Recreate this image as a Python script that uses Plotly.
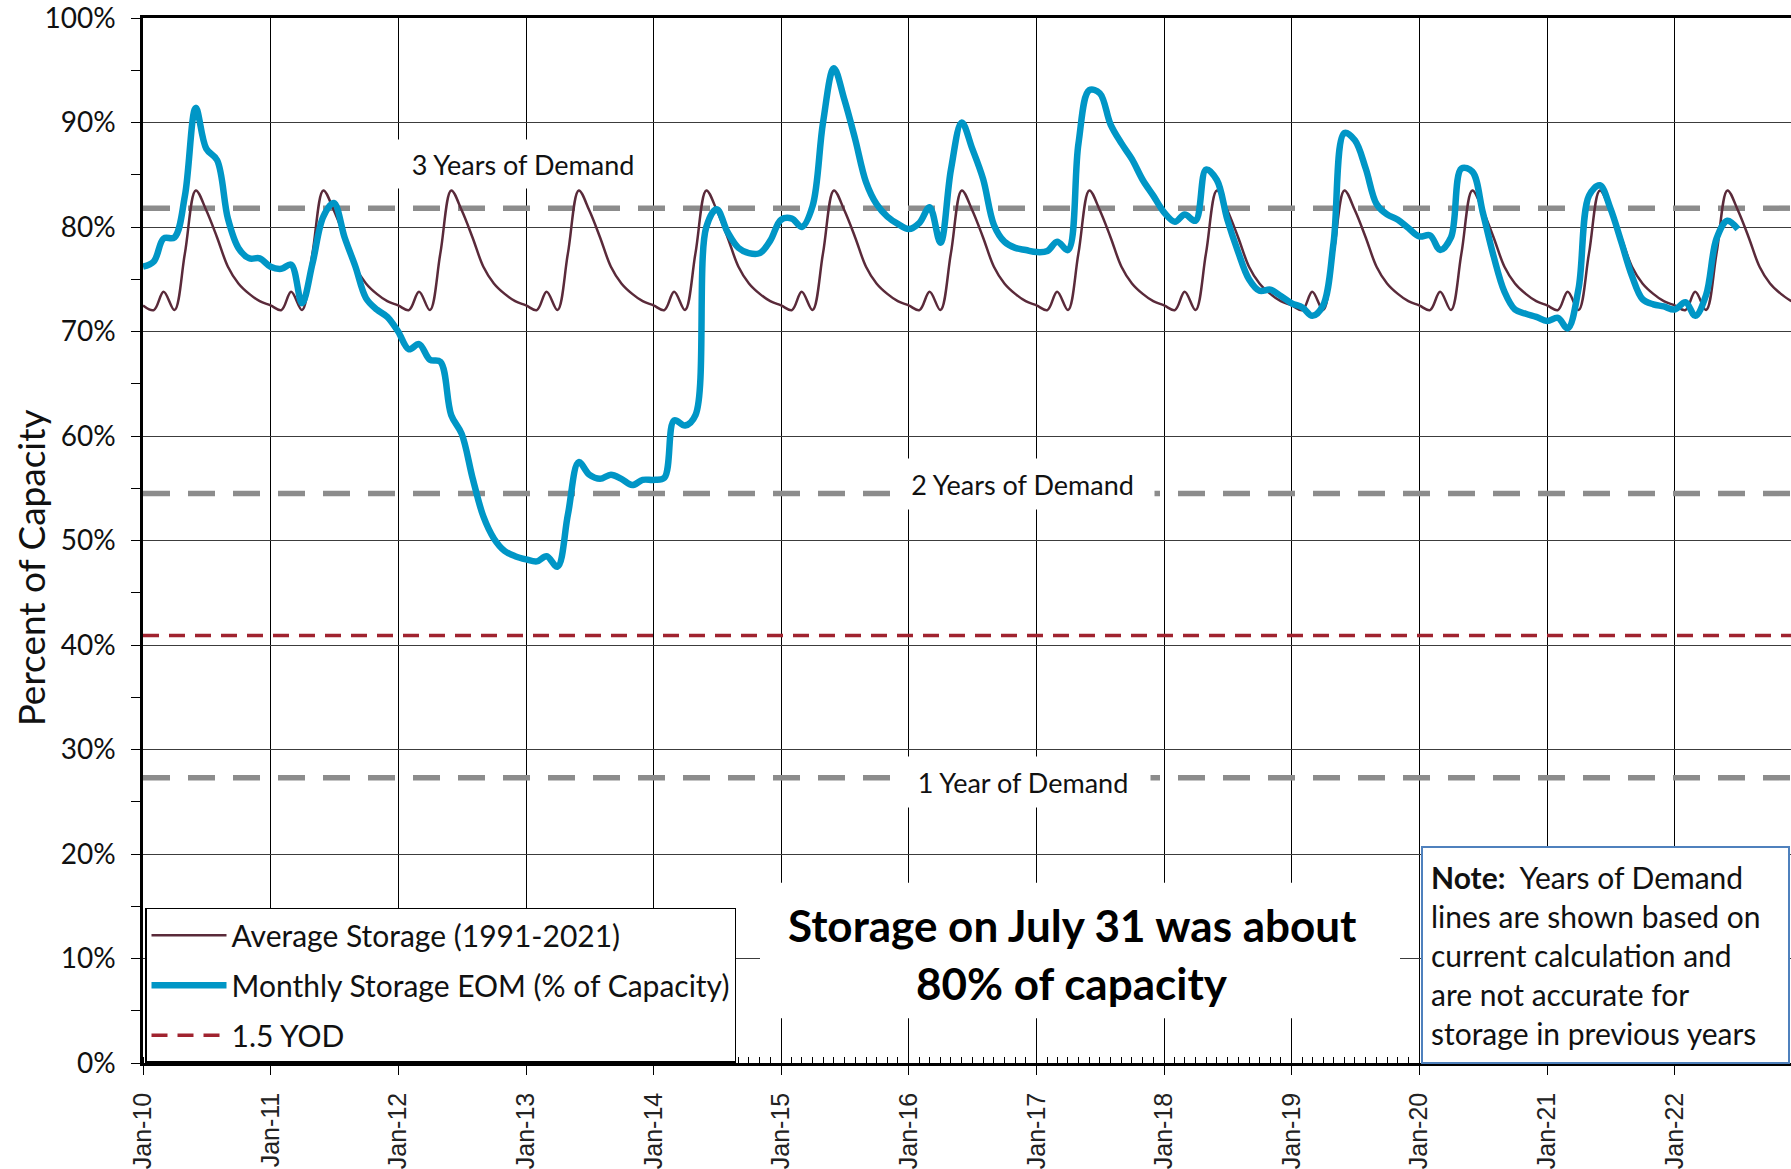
import pandas as pd
import plotly.graph_objects as go

# ---------------- data ----------------
storage_dates = pd.date_range("2010-01-01", "2022-07-01", freq="MS")
storage_eom = [
    # 2010
    76.2, 76.7, 78.9, 79.0, 83.0, 91.4, 87.5, 86.4, 80.8, 78.0, 77.0, 77.0,
    # 2011
    76.2, 76.0, 76.4, 72.7, 76.5, 81.0, 82.3, 79.0, 76.2, 73.2, 72.1, 71.4,
    # 2012
    70.0, 68.3, 68.8, 67.3, 67.1, 62.0, 60.2, 56.0, 52.3, 50.2, 49.0, 48.5,
    # 2013
    48.2, 48.0, 48.5, 47.5, 52.5, 57.5, 56.3, 55.9, 56.3, 55.9, 55.3, 55.8,
    # 2014
    55.8, 56.0, 61.5, 61.0, 62.0, 80.0, 81.7, 79.5, 78.0, 77.5, 77.5, 78.7,
    # 2015
    80.7, 80.8, 80.0, 82.0, 90.0, 95.2, 92.2, 88.4, 84.3, 82.2, 81.0, 80.3,
    # 2016
    79.8, 80.4, 81.9, 78.5, 85.5, 90.0, 87.5, 84.6, 80.2, 78.6, 78.0, 77.8,
    # 2017
    77.6, 77.7, 78.6, 77.8, 88.0, 93.1, 92.8, 89.8, 88.0, 86.5, 84.5, 83.0,
    # 2018
    81.4, 80.5, 81.2, 80.6, 85.5, 84.5, 80.7, 77.6, 75.0, 73.9, 74.0, 73.4,
    # 2019
    72.7, 72.3, 71.5, 72.5, 78.5, 89.0, 88.3, 85.6, 82.2, 81.2, 80.7, 79.9,
    # 2020
    79.1, 79.2, 77.8, 79.0, 85.6, 85.3, 81.4, 77.2, 73.8, 72.1, 71.7, 71.4,
    # 2021
    71.0, 71.3, 70.3, 74.1, 83.0, 84.0, 81.8, 78.6, 75.3, 73.1, 72.6, 72.4,
    # 2022
    72.1, 72.8, 71.5, 73.5, 78.9, 80.6, 79.8,
]

# average storage (1991-2021) by calendar month, Jan..Dec
avg_by_month = [72.5, 72.05, 73.8, 72.05, 77.5, 83.5, 81.6, 79.0, 76.2, 74.6, 73.6, 72.9]
avg_dates = pd.date_range("2010-01-01", "2022-12-01", freq="MS")
avg_storage = [avg_by_month[d.month - 1] for d in avg_dates]

yod_levels = [81.8, 54.5, 27.3]
yod_labels = ["3 Years of Demand", "2 Years of Demand", "1 Year of Demand"]
yod_15_level = 40.9

y_tick_vals = [0, 10, 20, 30, 40, 50, 60, 70, 80, 90, 100]
y_tick_text = ["0%", "10%", "20%", "30%", "40%", "50%", "60%", "70%", "80%", "90%", "100%"]

x_start = "2010-01-01"
x_end = "2022-11-30"

# ---------------- layout geometry ----------------
W, H = 1791, 1169
L, R, T, B = 143, 0, 18, 101
PW = W - L - R
PH = H - T - B
BOTTOM = T + PH


def px_x(px):
    return (px - L) / PW


def px_y(py):
    return (BOTTOM - py) / PH


CAL = "Lato, 'Open Sans', sans-serif"
ARIAL = "'Liberation Sans', Arial, sans-serif"

fig = go.Figure()

# Years-of-demand reference lines (not in legend)
for lvl in yod_levels:
    fig.add_trace(go.Scatter(
        x=[x_start, "2022-12-31"], y=[lvl, lvl], mode="lines",
        line=dict(color="#8C8C8C", width=5.5, dash="27px,18px"),
        showlegend=False, hoverinfo="skip"))

fig.add_trace(go.Scatter(
    x=[x_start, "2022-12-31"], y=[yod_15_level, yod_15_level], mode="lines",
    name="1.5 YOD", legendrank=3, legendgroup="c",
    line=dict(color="#A0232F", width=3.5, dash="16px,10px")))

fig.add_trace(go.Scatter(
    x=avg_dates, y=avg_storage, mode="lines",
    name="Average Storage (1991-2021)", legendrank=1, legendgroup="a",
    line=dict(color="#5A2A3A", width=2.5, shape="spline", smoothing=1)))

fig.add_trace(go.Scatter(
    x=storage_dates, y=storage_eom, mode="lines",
    name="Monthly Storage EOM (% of Capacity)", legendrank=2, legendgroup="b",
    line=dict(color="#0096C6", width=6.5, shape="spline", smoothing=1)))

annotations = []

# Years of demand labels with white boxes
yod_label_px = [(523, 165, 258, 48), (1022, 486, 263, 50), (1023, 786, 254, 50)]
for (cx, cy, bw, bh), lab in zip(yod_label_px, yod_labels):
    annotations.append(dict(
        text=lab, xref="paper", yref="paper", x=px_x(cx), y=px_y(cy),
        xanchor="center", yanchor="middle", showarrow=False,
        bgcolor="white", width=bw, height=bh, borderpad=0,
        font=dict(family=CAL, size=27, color="#111111")))

# Big statement (white box drawn as a shape, text as annotations)
shapes = [dict(type="rect", xref="paper", yref="paper",
               x0=px_x(760), x1=px_x(1400), y0=px_y(1023), y1=px_y(887),
               fillcolor="white", line=dict(width=0), layer="above")]
for txt, cy in [("Storage on July 31 was about", 929), ("80% of capacity", 988)]:
    annotations.append(dict(
        text="<b>" + txt + "</b>", xref="paper", yref="paper",
        x=px_x(1072), y=px_y(cy), xanchor="center", yanchor="middle",
        showarrow=False, font=dict(family=CAL, size=44, color="#000000")))

# Note box
note_text = ("<b>Note:</b>\u00a0 Years of Demand<br>lines are shown based on<br>"
             "current calculation and<br>are not accurate for<br>storage in previous years")
annotations.append(dict(
    text=note_text, xref="paper", yref="paper",
    x=px_x(1421), y=px_y(850), xanchor="left", yanchor="top",
    align="left", valign="middle", showarrow=False,
    width=349, height=198, borderpad=8, borderwidth=2,
    bordercolor="#4F81BD", bgcolor="white",
    font=dict(family=CAL, size=30, color="#111111")))

# Y axis title
annotations.append(dict(
    text="Percent of Capacity", xref="paper", yref="paper",
    x=px_x(30), y=px_y(571), xanchor="center", yanchor="middle",
    textangle=-90, showarrow=False,
    font=dict(family=CAL, size=37, color="#111111")))

fig.update_layout(
    width=W, height=H,
    margin=dict(l=L, r=R, t=T, b=B, pad=0),
    paper_bgcolor="white", plot_bgcolor="white",
    showlegend=True,
    legend=dict(
        x=px_x(145), y=px_y(912), xanchor="left", yanchor="top",
        bgcolor="white", bordercolor="#000000", borderwidth=1.5,
        font=dict(family=CAL, size=30, color="#111111"),
        itemwidth=75, tracegroupgap=8, traceorder="grouped"),
    annotations=annotations,
    shapes=shapes,
    xaxis=dict(
        type="date", range=[x_start, x_end],
        tick0=x_start, dtick="M12", tickformat="%b-%y", tickangle=-90,
        showgrid=True, gridcolor="#000000", gridwidth=1,
        showline=True, linecolor="#000000", linewidth=2.5, mirror=True,
        ticks="outside", ticklen=9, tickwidth=1.2, tickcolor="#000000",
        ticklabelstandoff=8,
        tickfont=dict(family=ARIAL, size=25, color="#222222"),
        minor=dict(dtick="M1", ticks="inside", ticklen=6, tickwidth=1,
                   tickcolor="#000000", showgrid=False),
        zeroline=False,
    ),
    yaxis=dict(
        range=[0, 100], tickmode="array", tickvals=y_tick_vals, ticktext=y_tick_text,
        showgrid=True, gridcolor="#3C3C3C", gridwidth=1.3,
        showline=True, linecolor="#000000", linewidth=2.5,
        ticks="outside", ticklen=9, tickwidth=1.2, tickcolor="#000000",
        ticklabelstandoff=10, ticklabeloverflow="allow",
        tickfont=dict(family=CAL, size=28, color="#111111"),
        minor=dict(tickvals=[5, 15, 25, 35, 45, 55, 65, 75, 85, 95],
                   ticks="outside", ticklen=9, tickwidth=1.2,
                   tickcolor="#000000", showgrid=False),
        zeroline=False,
    ),
)

fig.write_html(
    "out.html",
    config={"displayModeBar": False},
    post_script="document.body.style.margin='0';document.body.style.overflow='hidden';",
)
